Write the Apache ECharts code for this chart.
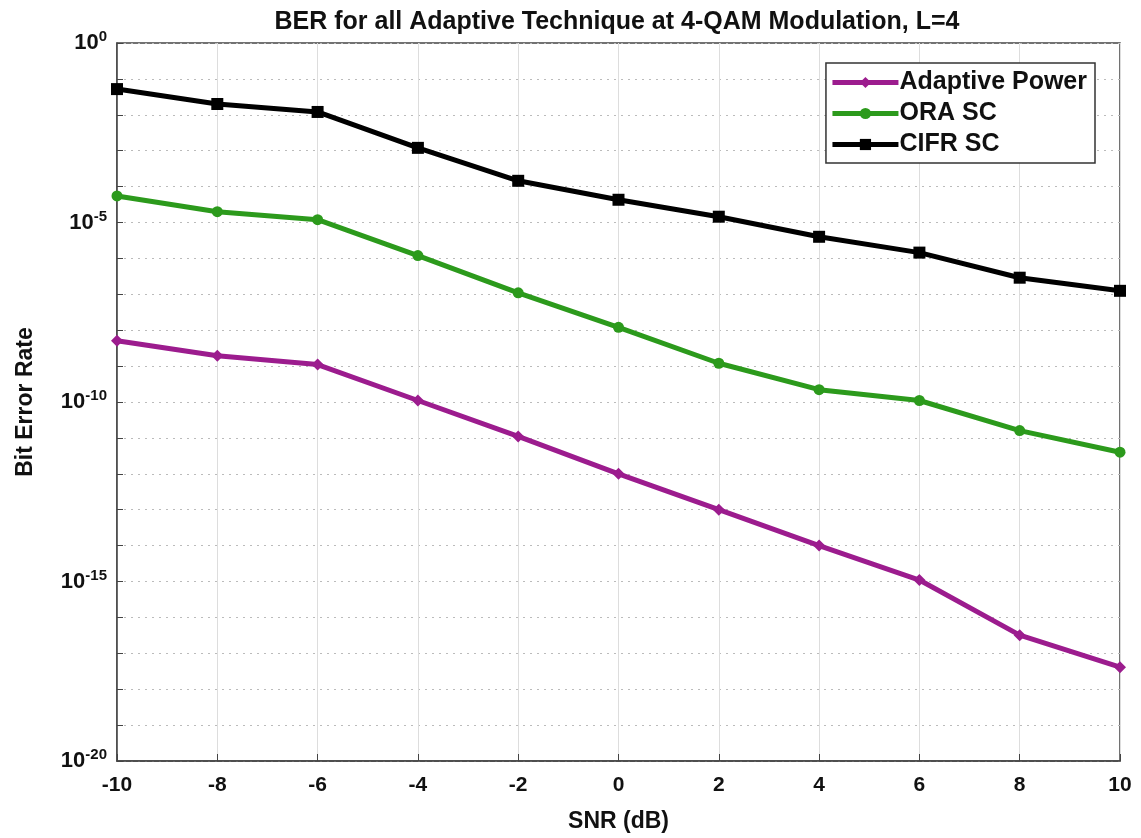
<!DOCTYPE html>
<html>
<head>
    <meta charset="utf-8">
    <title>BER</title>
    <script src="https://cdn.jsdelivr.net/npm/echarts@6/dist/echarts.min.js"></script>
    <style>
        html, body { margin: 0; padding: 0; background: #fff; }
        #chart { width: 1141px; height: 838px; }
    </style>
</head>
<body>
<div id="chart"></div>
<script>
    // SNR (dB) on x
    var snr = [-10, -8, -6, -4, -2, 0, 2, 4, 6, 8, 10];
    // BER values
    var adaptivePower = [5.1e-9, 1.95e-9, 1.1e-9, 1.1e-10, 1.1e-11, 1.0e-12, 1.0e-13, 1.0e-14, 1.1e-15, 3.2e-17, 4.1e-18];
    var oraSC = [5.5e-5, 2.0e-5, 1.2e-5, 1.2e-6, 1.1e-7, 1.2e-8, 1.2e-9, 2.2e-10, 1.1e-10, 1.6e-11, 4.0e-12];
    var cifrSC = [5.2e-2, 2.0e-2, 1.2e-2, 1.2e-3, 1.45e-4, 4.3e-5, 1.45e-5, 4.0e-6, 1.45e-6, 2.9e-7, 1.25e-7];
    var yLabelExps = [0, -5, -10, -15, -20];

    var font = 'Liberation Sans, Arial, sans-serif';
    var chart = echarts.init(document.getElementById('chart'));

    function pairs(vals) {
        return snr.map(function (x, i) { return [x, vals[i]]; });
    }

    chart.setOption({
        animation: false,
        title: {
            text: 'BER for all Adaptive Technique at 4-QAM Modulation, L=4',
            left: 612, top: 5, textAlign: 'center',
            textStyle: { fontFamily: font, fontSize: 25, fontWeight: 700, color: '#111' }
        },
        legend: {
            orient: 'vertical',
            right: 46, top: 63,
            padding: [7, 8, 6, 4],
            itemGap: 6,
            itemWidth: 66, itemHeight: 14,
            borderColor: '#333', borderWidth: 1.5,
            backgroundColor: '#fff',
            lineStyle: { width: 5 },
            textStyle: { fontFamily: font, fontSize: 25, fontWeight: 700, color: '#111', padding: [0, 0, 0, -4] },
            data: ['Adaptive Power', 'ORA SC', 'CIFR SC']
        },
        grid: {
            left: 117, right: 21, top: 43, bottom: 76,
            show: true, borderColor: '#444', borderWidth: 1.5
        },
        xAxis: {
            type: 'value', min: -10, max: 10, interval: 2,
            name: 'SNR (dB)', nameLocation: 'middle', nameGap: 49,
            nameTextStyle: { fontFamily: font, fontSize: 23, fontWeight: 700, color: '#111' },
            axisLine: { onZero: false, lineStyle: { color: '#444', width: 1.5 } },
            axisTick: { inside: true, length: 7, lineStyle: { color: '#444' } },
            axisLabel: { fontFamily: font, fontSize: 21, fontWeight: 700, color: '#111', margin: 14 },
            splitLine: { show: true, lineStyle: { color: '#ddd', width: 1 } }
        },
        yAxis: {
            type: 'log', logBase: 10, min: 1e-20, max: 1, interval: 1,
            name: 'Bit Error Rate', nameLocation: 'middle', nameGap: 80, nameRotate: 90,
            nameTextStyle: { fontFamily: font, fontSize: 23, fontWeight: 700, color: '#111' },
            axisLine: { onZero: false, lineStyle: { color: '#444', width: 1.5 } },
            axisTick: { inside: true, length: 6, lineStyle: { color: '#444' } },
            axisLabel: {
                fontFamily: font, fontSize: 22, fontWeight: 700, color: '#111', margin: 10,
                formatter: function (v) {
                    var e = Math.round(Math.log10(v));
                    if (yLabelExps.indexOf(e) < 0) return '';
                    return '10{sup|' + e + '}';
                },
                rich: {
                    sup: { fontFamily: font, fontSize: 15, fontWeight: 700, color: '#111', verticalAlign: 'top', padding: [0, 0, 12, 0] }
                }
            },
            splitLine: { show: true, lineStyle: { color: '#bbb', width: 1, type: [2, 5] } }
        },
        series: [
            {
                name: 'Adaptive Power', type: 'line', data: pairs(adaptivePower),
                symbol: 'diamond', symbolSize: 12,
                lineStyle: { color: '#9c1c8e', width: 5 },
                itemStyle: { color: '#9c1c8e' }
            },
            {
                name: 'ORA SC', type: 'line', data: pairs(oraSC),
                symbol: 'circle', symbolSize: 11,
                lineStyle: { color: '#2c9a1c', width: 5 },
                itemStyle: { color: '#2c9a1c' }
            },
            {
                name: 'CIFR SC', type: 'line', data: pairs(cifrSC),
                symbol: 'rect', symbolSize: 12,
                lineStyle: { color: '#000', width: 5 },
                itemStyle: { color: '#000' }
            }
        ]
    });
</script>
</body>
</html>
